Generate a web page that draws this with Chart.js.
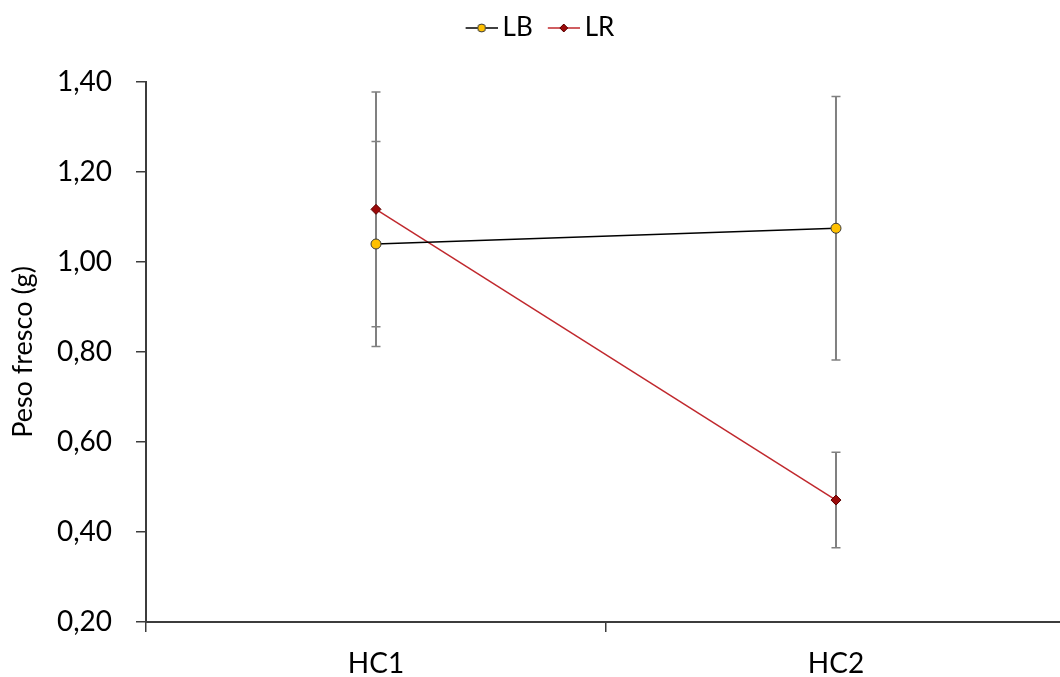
<!DOCTYPE html>
<html lang="pt">
<head>
<meta charset="utf-8">
<title>Peso fresco</title>
<script src="https://cdn.jsdelivr.net/npm/chart.js@4/dist/chart.umd.min.js"></script>
<style>
  html, body { margin: 0; padding: 0; background: #fff; overflow: hidden; }
  canvas { display: block; }
</style>
</head>
<body>
<canvas id="chart" width="1060" height="677"></canvas>
<script>
// Harvest points and mean fresh weight per treatment (g), with the error of each mean
const harvests = ['HC1', 'HC2'];
const lbMeans = [1.04, 1.075];
const lbErrors = [0.228, 0.293];
const lrMeans = [1.117, 0.471];
const lrErrors = [0.261, 0.106];
const yTicks = [0.2, 0.4, 0.6, 0.8, 1.0, 1.2, 1.4];

const FONT = 'Lato';
const AXIS = '#3c3c3c';

// harvests sit at 0, 1, ...; category boundaries at the half steps.
// The frame is cut just before the last boundary (1.5).
const X_MIN = -0.5;
const X_MAX = 1.487;

const toPoints = arr => arr.map((v, i) => ({ x: i, y: v }));

// legend symbol: a short line with the marker in the middle
function legendSymbol(lineColor, fill, stroke, shape) {
  const c = document.createElement('canvas');
  c.width = 40;
  c.height = 14;
  const g = c.getContext('2d');
  g.strokeStyle = lineColor;
  g.lineWidth = 1.5;
  g.beginPath();
  g.moveTo(8, 7);
  g.lineTo(40, 7);
  g.stroke();
  g.fillStyle = fill;
  g.strokeStyle = stroke;
  g.lineWidth = 1;
  g.beginPath();
  if (shape === 'diamond') {
    g.moveTo(24, 3); g.lineTo(28, 7); g.lineTo(24, 11); g.lineTo(20, 7); g.closePath();
  } else {
    g.arc(24, 7, 4, 0, Math.PI * 2);
  }
  g.fill();
  g.stroke();
  return c;
}

const symbols = [
  legendSymbol('#000', '#FFC000', '#3a3a3a', 'circle'),
  legendSymbol('#C0282D', '#9B0A0A', '#5a0000', 'diamond')
];

// vertical error bars with caps, placed on the chart's own scales
const errorBars = {
  id: 'errorBars',
  beforeDatasetsDraw(chart) {
    const { ctx, scales: { y } } = chart;
    const errs = [lbErrors, lrErrors];
    ctx.save();
    ctx.strokeStyle = '#808080';
    chart.data.datasets.forEach((ds, i) => {
      const meta = chart.getDatasetMeta(i);
      meta.data.forEach((pt, j) => {
        const top = y.getPixelForValue(ds.data[j].y + errs[i][j]);
        const bot = y.getPixelForValue(ds.data[j].y - errs[i][j]);
        ctx.lineWidth = 2;
        ctx.beginPath();
        ctx.moveTo(pt.x, top);
        ctx.lineTo(pt.x, bot);
        ctx.stroke();
        ctx.lineWidth = 1.5;
        ctx.beginPath();
        ctx.moveTo(pt.x - 4.5, top);
        ctx.lineTo(pt.x + 4.5, top);
        ctx.moveTo(pt.x - 4.5, bot);
        ctx.lineTo(pt.x + 4.5, bot);
        ctx.stroke();
      });
    });
    ctx.restore();
  }
};

// fixed legend band above the plot, nudged a little right
const legendBand = {
  id: 'legendBand',
  beforeLayout(chart) {
    const lg = chart.legend;
    if (lg && !lg._banded) {
      const fit = lg.fit;
      lg.fit = function () { fit.call(this); this.height = 82; };
      lg._banded = true;
    }
  },
  afterLayout(chart) {
    chart.legend.left += 10;
    chart.legend.right += 10;
  }
};

new Chart(document.getElementById('chart'), {
  type: 'line',
  data: {
    datasets: [
      {
        label: 'LB',
        data: toPoints(lbMeans),
        borderColor: '#000',
        borderWidth: 1.5,
        pointStyle: 'circle',
        pointRadius: 5,
        pointBorderWidth: 1,
        pointBackgroundColor: '#FFC000',
        pointBorderColor: '#3a3a3a',
        tension: 0
      },
      {
        label: 'LR',
        data: toPoints(lrMeans),
        borderColor: '#C0282D',
        borderWidth: 1.5,
        pointStyle: 'rectRot',
        pointRadius: 5,
        pointBorderWidth: 1,
        pointBackgroundColor: '#9B0A0A',
        pointBorderColor: '#5a0000',
        tension: 0
      }
    ]
  },
  options: {
    responsive: false,
    animation: false,
    // the frame runs right up to the edge
    layout: { padding: 0, autoPadding: false },
    plugins: {
      legend: {
        position: 'top',
        labels: {
          usePointStyle: true,
          pointStyleWidth: 24,
          padding: 15,
          color: '#000',
          font: { family: FONT, size: 26 },
          generateLabels(chart) {
            return Chart.defaults.plugins.legend.labels.generateLabels(chart)
              .map((item, i) => ({ ...item, pointStyle: symbols[i] }));
          }
        }
      },
      tooltip: { enabled: false }
    },
    scales: {
      x: {
        type: 'linear',
        min: X_MIN,
        max: X_MAX,
        afterBuildTicks(scale) {
          const t = [];
          harvests.forEach((h, i) => { t.push({ value: i - 0.5 }, { value: i }); });
          scale.ticks = t;
        },
        grid: {
          drawOnChartArea: false,
          tickLength: 10,
          color: c => Number.isInteger(c.tick && c.tick.value) ? 'rgba(0,0,0,0)' : AXIS,
          lineWidth: 1.5
        },
        border: { color: AXIS, width: 2 },
        ticks: {
          autoSkip: false,
          maxRotation: 0,
          color: '#000',
          padding: 15,
          font: { family: FONT, size: 28 },
          callback: v => Number.isInteger(v) ? harvests[v] : ''
        },
        afterFit(scale) {
          scale.height = 55;
          scale.paddingLeft = 0;
          scale.paddingRight = 0;
        }
      },
      y: {
        min: 0.2,
        max: 1.4,
        afterBuildTicks(scale) { scale.ticks = yTicks.map(v => ({ value: v })); },
        grid: {
          drawOnChartArea: false,
          tickLength: 10,
          color: AXIS,
          lineWidth: 1.5
        },
        border: { color: AXIS, width: 2 },
        ticks: {
          color: '#000',
          padding: 24,
          font: { family: FONT, size: 28 },
          callback: v => v.toFixed(2).replace('.', ',')
        },
        title: {
          display: true,
          text: 'Peso fresco (g)',
          color: '#000',
          padding: { top: 7, bottom: 0 },
          font: { family: FONT, size: 27 }
        },
        afterFit(scale) { scale.width = 146; }
      }
    }
  },
  plugins: [errorBars, legendBand]
});
</script>
</body>
</html>
